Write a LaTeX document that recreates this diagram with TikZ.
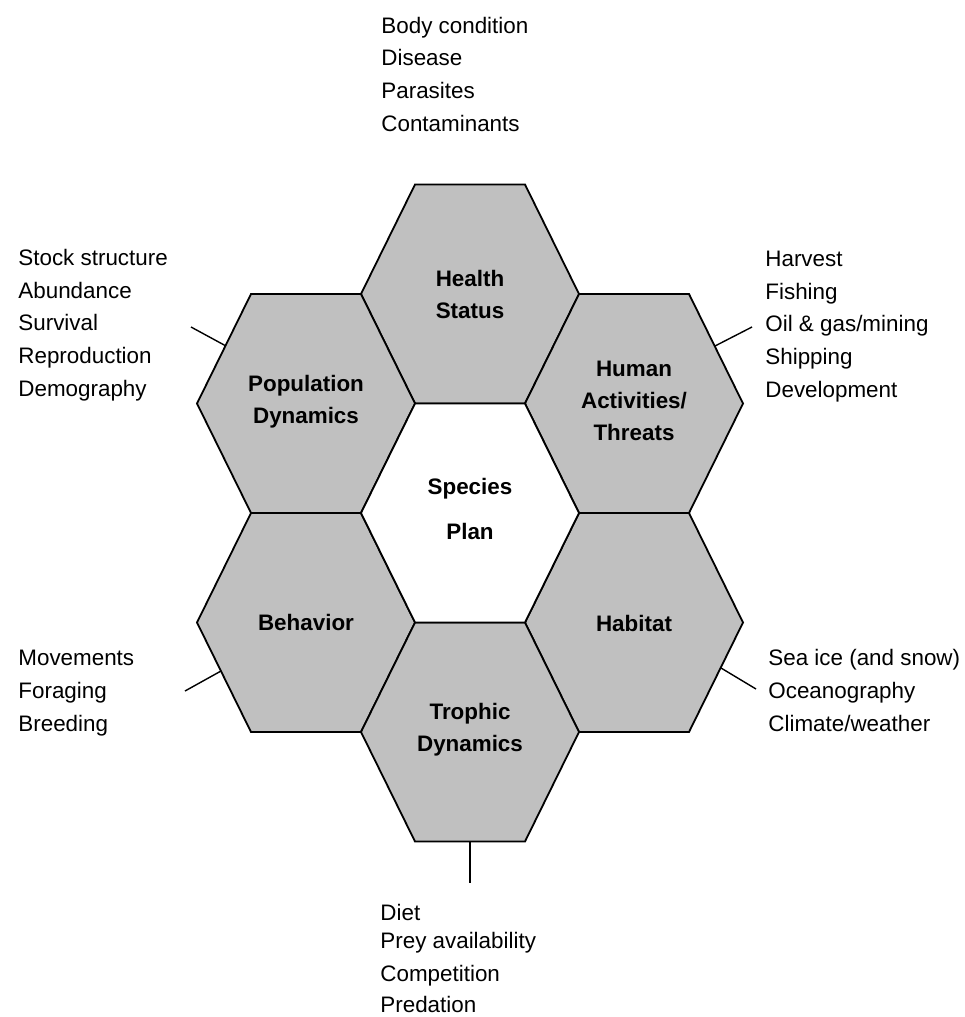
\documentclass[tikz,border=0pt]{standalone}
\usepackage{fontspec}
\setmainfont{Liberation Sans}
\definecolor{HexGray}{RGB}{192,192,192}

\tikzset{
  hexlabel/.style={align=center, font=\fontsize{11.2}{16}\selectfont\bfseries},
  itemlist/.style={anchor=base west, align=left, inner sep=0pt, font=\fontsize{11.2}{16.3}\selectfont},
  linkline/.style={line width=0.7pt}
}

% one hexagon cell: centre x, centre y, fill colour
\newcommand{\hexcell}[3]{%
  \draw[line width=0.9pt, fill=#3, shift={(#1,#2)}]
    (-109,0) -- (-55,-109.5) -- (55,-109.5) -- (109,0) -- (55,109.5) -- (-55,109.5) -- cycle;}

\begin{document}
\begin{tikzpicture}[x=0.5pt, y=-0.5pt]
    \useasboundingbox (0,0) rectangle (964,1017);

    % Outer ring of cells
    \foreach \x/\y in {470/294, 306/403.5, 634/403.5, 306/622.5, 634/622.5, 470/732} {
      \hexcell{\x}{\y}{HexGray}
    }
    % Centre cell
    \hexcell{470}{513}{white}

    % Cell labels
    \node[hexlabel] (health) at (470,294) {Health\\Status};
    \node[hexlabel] (population) at (306,402) {Population\\Dynamics};
    \node[hexlabel] (human) at (634,401) {Human\\Activities/\\Threats};
    \node[hexlabel] (species) at (470,509) {Species\\[6.5pt]Plan};
    \node[hexlabel] (behavior) at (306,622) {Behavior};
    \node[hexlabel] (habitat) at (634,623) {Habitat};
    \node[hexlabel] (trophic) at (470,730) {Trophic\\Dynamics};

    % Lists of topics (placed at the baseline of the last line)
    \node[itemlist] (healthlist) at (381,131) {Body condition\\Disease\\Parasites\\Contaminants};
    \node[itemlist] (poplist) at (18,396) {Stock structure\\Abundance\\Survival\\Reproduction\\Demography};
    \node[itemlist] (humanlist) at (765,397) {Harvest\\Fishing\\Oil \& gas/mining\\Shipping\\Development};
    \node[itemlist] (behavlist) at (18,731) {Movements\\Foraging\\Breeding};
    \node[itemlist] (habitatlist) at (768,731) {Sea ice (and snow)\\Oceanography\\Climate/weather};
    \node[itemlist] (trophiclist) at (380,1012) {Diet\\[-2.2pt]Prey availability\\Competition\\[-1pt]Predation};

    % Connectors
    \coordinate (popedge) at (226,346);
    \coordinate (popend) at (191,327);
    \coordinate (humanedge) at (715,346);
    \coordinate (humanend) at (752,327);
    \coordinate (behavedge) at (221,671);
    \coordinate (behavend) at (185,691);
    \coordinate (habitatedge) at (721,668);
    \coordinate (habitatend) at (756,689);
    \coordinate (trophicedge) at (470,841.5);
    \coordinate (trophicend) at (470,883);
    \draw[linkline] (popedge) -- (popend);
    \draw[linkline] (humanedge) -- (humanend);
    \draw[linkline] (behavedge) -- (behavend);
    \draw[linkline] (habitatedge) -- (habitatend);
    \draw[linkline] (trophicedge) -- (trophicend);
\end{tikzpicture}
\end{document}
